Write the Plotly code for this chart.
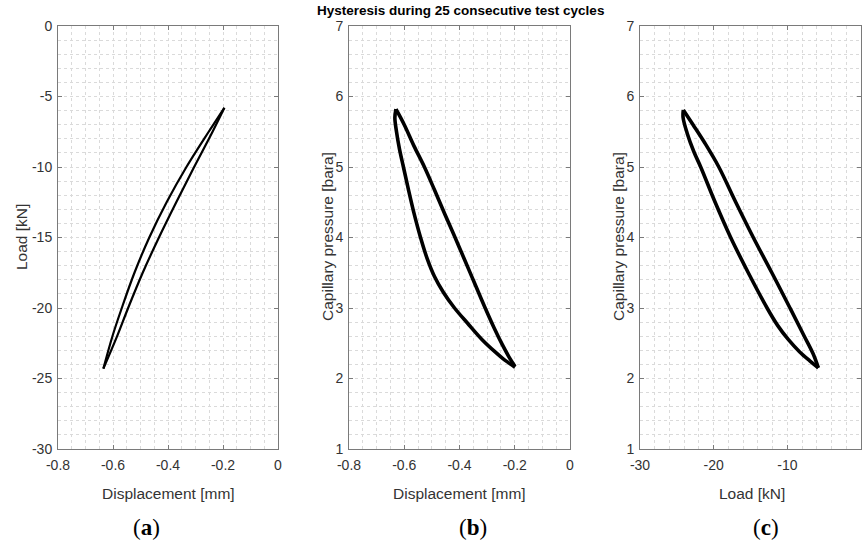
import plotly.graph_objects as go

# ---------------- data ----------------
# (a) Load vs displacement
disp_a_upper = [-0.195, -0.252, -0.333, -0.405, -0.468, -0.522, -0.568, -0.602, -0.635]
load_a_upper = [-5.8, -7.5, -10.0, -12.5, -15.0, -17.5, -20.0, -22.0, -24.3]
disp_a_lower = [-0.195, -0.238, -0.305, -0.370, -0.433, -0.492, -0.545, -0.585, -0.635]
load_a_lower = [-5.8, -7.5, -10.0, -12.5, -15.0, -17.5, -20.0, -22.0, -24.3]

# (b) Capillary pressure vs displacement
disp_b_upper = [-0.630, -0.600, -0.565, -0.527, -0.490, -0.453, -0.416, -0.380, -0.343, -0.307, -0.275, -0.245, -0.220, -0.199]
pres_b_upper = [5.82, 5.60, 5.30, 5.00, 4.67, 4.33, 4.00, 3.67, 3.33, 3.00, 2.72, 2.48, 2.30, 2.17]
disp_b_lower = [-0.630, -0.634, -0.628, -0.617, -0.603, -0.586, -0.565, -0.541, -0.517, -0.491, -0.458, -0.418, -0.370, -0.318, -0.272, -0.236, -0.210, -0.199]
pres_b_lower = [5.82, 5.70, 5.50, 5.25, 5.00, 4.70, 4.35, 4.00, 3.70, 3.45, 3.22, 3.00, 2.78, 2.55, 2.38, 2.26, 2.19, 2.16]

# (c) Capillary pressure vs load
load_c_upper = [-24.12, -22.8, -21.2, -19.3, -17.0, -14.62, -12.1, -9.64, -7.7, -6.5, -5.79]
pres_c_upper = [5.81, 5.60, 5.34, 5.00, 4.50, 4.00, 3.50, 3.00, 2.60, 2.35, 2.15]
load_c_lower = [-24.12, -24.15, -23.6, -22.7, -21.76, -19.8, -17.69, -15.3, -12.75, -11.3, -9.85, -8.35, -6.95, -5.79]
pres_c_lower = [5.81, 5.70, 5.48, 5.22, 5.00, 4.50, 4.00, 3.50, 3.00, 2.75, 2.55, 2.38, 2.25, 2.15]

title_text = "Hysteresis during 25 consecutive test cycles"
disp_ticks = [-0.8, -0.6, -0.4, -0.2, 0]
disp_ticklabels = ["-0.8", "-0.6", "-0.4", "-0.2", "0"]
load_ticks_a = [0, -5, -10, -15, -20, -25, -30]
load_ticklabels_a = ["0", "-5", "-10", "-15", "-20", "-25", "-30"]
load_ticks_c = [-30, -20, -10, 0]
load_ticklabels_c = ["-30", "-20", "-10", "0"]
pres_ticks = [1, 2, 3, 4, 5, 6, 7]
pres_ticklabels = ["1", "2", "3", "4", "5", "6", "7"]

# ---------------- figure ----------------
W, H = 864, 544
fig = go.Figure()

def add_loop(x1, y1, x2, y2, xa, ya, width):
    for xs, ys in ((x1, y1), (x2, y2)):
        fig.add_trace(go.Scatter(x=xs, y=ys, mode="lines", xaxis=xa, yaxis=ya,
                                 line=dict(color="black", width=width, shape="spline", smoothing=1.0),
                                 showlegend=False, hoverinfo="skip"))

add_loop(disp_a_upper, load_a_upper, disp_a_lower, load_a_lower, "x", "y", 2.2)
add_loop(disp_b_upper, pres_b_upper, disp_b_lower, pres_b_lower, "x2", "y2", 3.6)
add_loop(load_c_upper, pres_c_upper, load_c_lower, pres_c_lower, "x3", "y3", 3.6)

AX = "#7a7a7a"
GRID = "#dadada"
TICKFONT = dict(family="Liberation Sans, Arial, sans-serif", size=14, color="#333333")

def axis(domain, rng, tickvals, ticktext, minor_dtick, anchor, standoff):
    return dict(domain=domain, range=rng, tickmode="array", tickvals=tickvals, ticktext=ticktext,
                showline=True, linecolor=AX, linewidth=1, mirror="ticks",
                ticks="inside", ticklen=4, tickcolor=AX, tickwidth=1,
                showgrid=True, gridcolor=GRID, griddash="dot", gridwidth=1,
                zeroline=False, tickfont=TICKFONT, automargin=False, anchor=anchor,
                ticklabelstandoff=standoff,
                minor=dict(dtick=minor_dtick, tick0=0, showgrid=True, gridcolor=GRID,
                           griddash="dot", gridwidth=1, ticklen=0))

ydom = [1 - 449 / H, 1 - 26 / H]
xa_dom = [58 / W, 278 / W]
xb_dom = [349 / W, 570 / W]
xc_dom = [640 / W, 861 / W]

fig.update_layout(
    width=W, height=H,
    margin=dict(l=0, r=0, t=0, b=0),
    paper_bgcolor="white", plot_bgcolor="white",
    xaxis=axis(xa_dom, [-0.8, 0], disp_ticks, disp_ticklabels, 0.05, "y", 3),
    yaxis=axis(ydom, [-30, 0], load_ticks_a, load_ticklabels_a, 1, "x", 2),
    xaxis2=axis(xb_dom, [-0.8, 0], disp_ticks, disp_ticklabels, 0.05, "y2", 3),
    yaxis2=axis(ydom, [1, 7], pres_ticks, pres_ticklabels, 0.2, "x2", 2),
    xaxis3=axis(xc_dom, [-30, 0], load_ticks_c, load_ticklabels_c, 2, "y3", 3),
    yaxis3=axis(ydom, [1, 7], pres_ticks, pres_ticklabels, 0.2, "x3", 2),
)

LABELFONT = dict(family="Liberation Sans, Arial, sans-serif", size=15.5, color="#333333")

def ann(text, x, y, font, angle=0):
    fig.add_annotation(text=text, x=x / W, y=1 - y / H, xref="paper", yref="paper",
                       xanchor="center", yanchor="middle", showarrow=False,
                       font=font, textangle=angle)

ann("Displacement [mm]", 168, 493, LABELFONT)
ann("Displacement [mm]", 459, 493, LABELFONT)
ann("Load [kN]", 752, 493, LABELFONT)
ann("Load [kN]", 21, 237, LABELFONT, -90)
ann("Capillary pressure [bara]", 327, 237, LABELFONT, -90)
ann("Capillary pressure [bara]", 618, 237, LABELFONT, -90)

ann("<b>" + title_text + "</b>", 461, 10,
    dict(family="Liberation Sans, Arial, sans-serif", size=13.5, color="black"))

PFONT = dict(family="Liberation Serif, Times New Roman, serif", size=23, color="black")
ann("(<b>a</b>)", 146, 527, PFONT)
ann("(<b>b</b>)", 473, 527, PFONT)
ann("(<b>c</b>)", 766, 527, PFONT)

fig.write_html("out.html")
